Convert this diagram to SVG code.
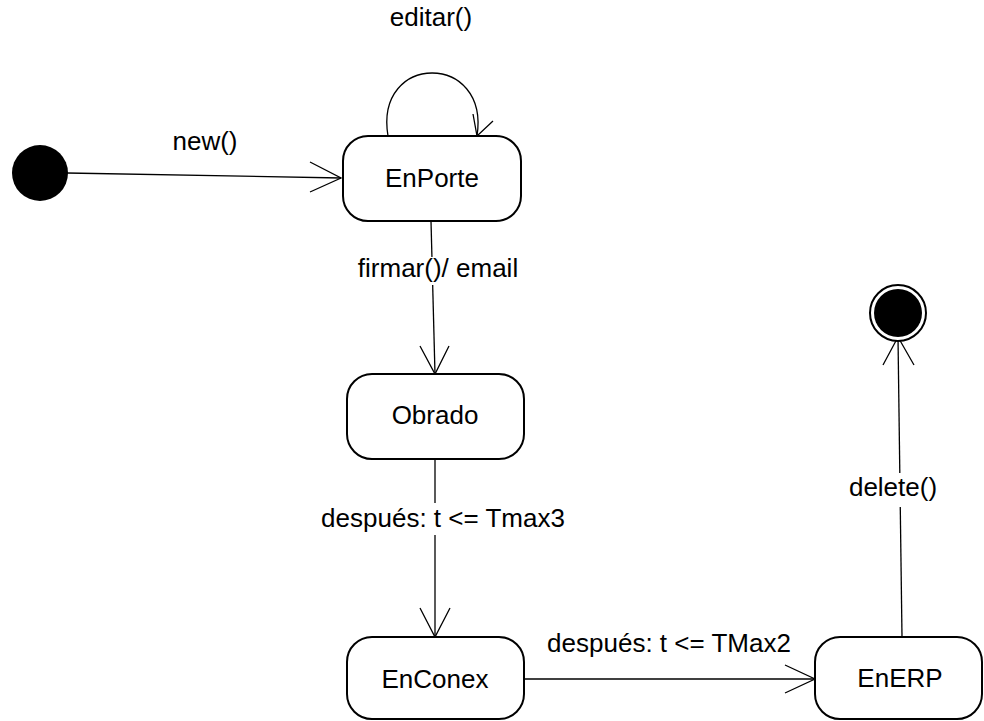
<svg xmlns="http://www.w3.org/2000/svg" width="984" height="721" viewBox="0 0 984 721">
<style>
.state{fill:#fff;stroke:#000;stroke-width:2}
.lbl{font-family:"Liberation Sans",Arial,sans-serif;font-size:26px;fill:#000;text-anchor:middle}
.edge{fill:none;stroke:#000;stroke-width:1.3}
.bg{fill:#fff}
</style>
<rect width="984" height="721" fill="#fff"/>
<g id="connectors">
  <g id="e-new">
    <path class="edge" d="M67 173 L341 178"/>
    <path class="edge" d="M310 162 L341 178 L310 192"/>
    <text class="lbl" x="205" y="150">new()</text>
  </g>
  <g id="e-editar">
    <path class="edge" d="M388 136 C374 52, 490 52, 477 136"/>
    <path class="edge" d="M473 114 L477 136 L493 121"/>
    <text class="lbl" x="431" y="26">editar()</text>
  </g>
  <g id="e-firmar">
    <path class="edge" d="M431 221 L435 374"/>
    <path class="edge" d="M420 346 L435 374 L449 346"/>
    <rect class="bg" x="357" y="257" width="163" height="28"/>
    <text class="lbl" x="438" y="277">firmar()/ email</text>
  </g>
  <g id="e-tmax3">
    <path class="edge" d="M435 459 L435 637"/>
    <path class="edge" d="M420 608 L435 637 L450 608"/>
    <rect class="bg" x="316" y="503" width="253" height="32"/>
    <text class="lbl" x="443" y="527">después: t &lt;= Tmax3</text>
  </g>
  <g id="e-tmax2">
    <path class="edge" d="M524 679 L815 679"/>
    <path class="edge" d="M785 665 L815 679 L785 693"/>
    <text class="lbl" x="669" y="652">después: t &lt;= TMax2</text>
  </g>
  <g id="e-delete">
    <path class="edge" d="M902 637 L898 337"/>
    <path class="edge" d="M883 365 L898 337 L914 365"/>
    <rect class="bg" x="846" y="473" width="94" height="34"/>
    <text class="lbl" x="893" y="496">delete()</text>
  </g>
</g>
<g id="initial">
  <circle cx="40" cy="173" r="28" fill="#000"/>
</g>
<g id="final">
  <circle cx="898" cy="313" r="28" fill="#fff" stroke="#000" stroke-width="2"/>
  <circle cx="898" cy="313" r="24" fill="#000"/>
</g>
<g id="EnPorte">
  <rect class="state" x="343" y="136" width="178" height="85" rx="25" ry="25"/>
  <text class="lbl" x="432" y="187">EnPorte</text>
</g>
<g id="Obrado">
  <rect class="state" x="347" y="374" width="177" height="85" rx="25" ry="25"/>
  <text class="lbl" x="435" y="424">Obrado</text>
</g>
<g id="EnConex">
  <rect class="state" x="347" y="637" width="177" height="82" rx="25" ry="25"/>
  <text class="lbl" x="435" y="688">EnConex</text>
</g>
<g id="EnERP">
  <rect class="state" x="815" y="637" width="167" height="82" rx="25" ry="25"/>
  <text class="lbl" x="900" y="687">EnERP</text>
</g>
</svg>
